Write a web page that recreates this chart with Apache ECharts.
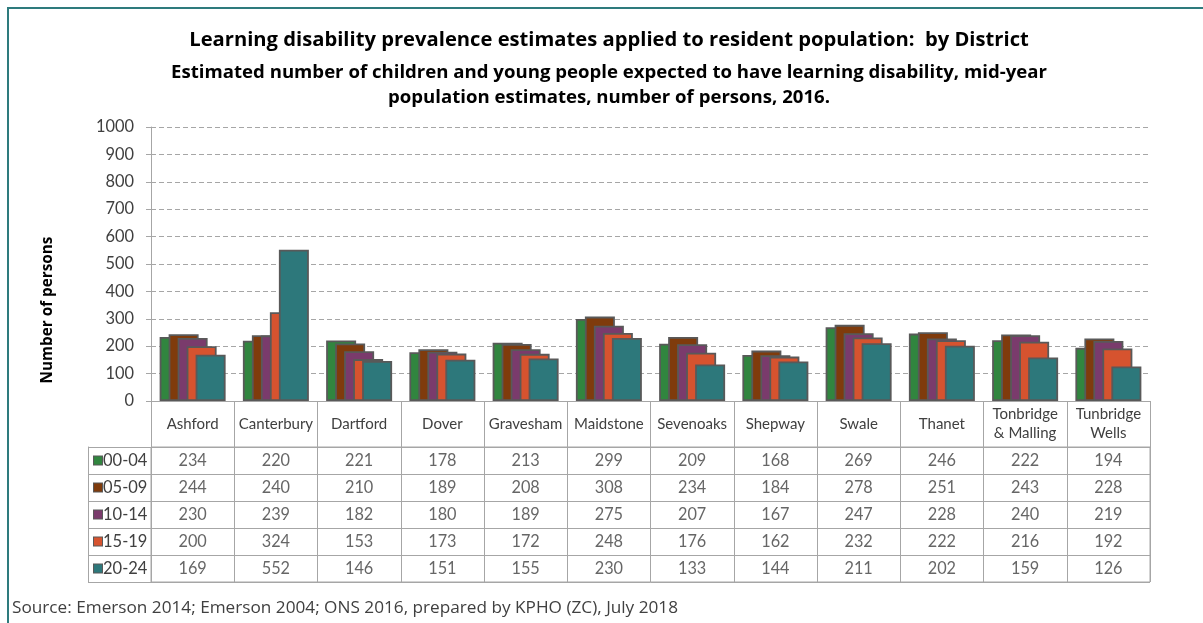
<!DOCTYPE html>
<html>
<head>
<meta charset="utf-8">
<script src="https://cdn.jsdelivr.net/npm/echarts@6/dist/echarts.min.js"></script>
<style>
html,body{margin:0;padding:0;background:#fff;}
#c{width:1203px;height:623px;}
</style>
</head>
<body>
<div id="c"></div>
<script>
const districts = ['Ashford','Canterbury','Dartford','Dover','Gravesham','Maidstone','Sevenoaks','Shepway','Swale','Thanet','Tonbridge\n& Malling','Tunbridge\nWells'];
const ageGroups = ['00-04','05-09','10-14','15-19','20-24'];
const s0004 = [234,220,221,178,213,299,209,168,269,246,222,194];
const s0509 = [244,240,210,189,208,308,234,184,278,251,243,228];
const s1014 = [230,239,182,180,189,275,207,167,247,228,240,219];
const s1519 = [200,324,153,173,172,248,176,162,232,222,216,192];
const s2024 = [169,552,146,151,155,230,133,144,211,202,159,126];
const yTicks = {min:0, max:1000, interval:100};
const colors = ['#31853F','#7F3B0C','#7A3B6C','#D6532F','#2D787B'];

const seriesData = [s0004,s0509,s1014,s1519,s2024];
const FONT = 'Lato, "Open Sans", sans-serif';
const TFONT = '"Open Sans", Lato, sans-serif';
const GRAY = '#A6A6A6';
const TXT = '#404040';

const chart = echarts.init(document.getElementById('c'));

const rich = {t:{fontSize:16.5,color:TXT,fontFamily:FONT,padding:[0,0,0,1]}};
colors.forEach((c,i)=>{ rich['s'+i] = {width:8,height:8,backgroundColor:c,borderColor:'#595959',borderWidth:1}; });

const cellData = [];
seriesData.forEach((arr,r)=>arr.forEach((v,c)=>cellData.push([c,r,v])));

const barSeries = seriesData.map((arr,i)=>({
  name: ageGroups[i],
  type:'bar',
  xAxisIndex:0, yAxisIndex:0,
  data: arr,
  barWidth:30,
  barGap:'-70%',
  itemStyle:{color:colors[i], borderColor:'#595959', borderWidth:1.8},
  silent:true
}));

chart.setOption({
  animation:false,
  backgroundColor:'#fff',
  textStyle:{fontFamily:FONT},
  title:[
    {text:'Learning disability prevalence estimates applied to resident population:  by District',
     left:609, textAlign:'center', top:30, padding:0,
     textStyle:{fontSize:20.2,fontWeight:'bold',color:'#000',fontFamily:TFONT}},
    {text:'Estimated number of children and young people expected to have learning disability, mid-year\npopulation estimates, number of persons, 2016.',
     left:609, textAlign:'center', top:60, padding:0,
     textStyle:{fontSize:18.6,fontWeight:'bold',color:'#000',lineHeight:25,fontFamily:TFONT}},
    {text:'Source: Emerson 2014; Emerson 2004; ONS 2016, prepared by KPHO (ZC), July 2018',
     left:12, top:600, padding:0,
     textStyle:{fontSize:17.2,fontWeight:'normal',color:TXT,fontFamily:TFONT}}
  ],
  graphic:[
    {type:'rect', shape:{x:8,y:8,width:1210,height:630}, style:{fill:'none',stroke:'#2E7B7D',lineWidth:2}, silent:true},
    {type:'text', x:48, y:310, rotation:Math.PI/2, silent:true,
     style:{text:'Number of persons', fontSize:15.3, fontWeight:'bold', fill:'#000', fontFamily:TFONT, align:'center', verticalAlign:'middle'}}
  ],
  grid:[
    {left:151, right:53, top:127, bottom:222},
    {left:151, right:53, top:447, bottom:41, show:true, borderColor:GRAY, borderWidth:1, backgroundColor:'transparent'}
  ],
  xAxis:[
    {type:'category', gridIndex:0, data:districts,
     axisLine:{lineStyle:{color:GRAY,width:1}},
     axisTick:{show:true, interval:0, length:46, lineStyle:{color:GRAY}},
     axisLabel:{interval:0, margin:23, verticalAlign:'middle', fontSize:15, color:TXT, lineHeight:19, fontFamily:FONT}},
    {type:'category', gridIndex:1, data:districts, position:'top',
     axisLine:{show:true,lineStyle:{color:GRAY}},
     axisTick:{show:false}, axisLabel:{show:false},
     splitLine:{show:true, interval:0, lineStyle:{color:GRAY,width:1}}}
  ],
  yAxis:[
    {type:'value', gridIndex:0, min:yTicks.min, max:yTicks.max, interval:yTicks.interval,
     axisLine:{show:true,lineStyle:{color:GRAY}},
     axisTick:{show:true,length:5,lineStyle:{color:GRAY}},
     axisLabel:{fontSize:16.4,color:TXT,margin:17,fontFamily:FONT,formatter:v=>String(v)},
     splitLine:{show:true,lineStyle:{color:GRAY,type:[5,3],width:1}}},
    {type:'category', gridIndex:1, data:ageGroups, inverse:true,
     axisLine:{show:true,lineStyle:{color:GRAY}},
     axisTick:{show:true, interval:0, length:63, lineStyle:{color:GRAY}},
     axisLabel:{interval:0, align:'left', margin:57,
       formatter:(v,i)=>'{s'+i+'|}{t|'+v+'}', rich:rich},
     splitLine:{show:true, interval:0, lineStyle:{color:GRAY,width:1}}},
    {type:'category', gridIndex:1, data:ageGroups, inverse:true, position:'left', offset:63,
     axisLine:{show:true,lineStyle:{color:GRAY}},
     axisTick:{show:false}, axisLabel:{show:false}, splitLine:{show:false}}
  ],
  series: barSeries.concat([{
    type:'scatter', xAxisIndex:1, yAxisIndex:1,
    data:cellData, symbolSize:1, itemStyle:{color:'rgba(0,0,0,0)'},
    silent:true,
    label:{show:true, position:'inside', formatter:p=>String(p.value[2]), fontSize:16.3, color:TXT, fontFamily:FONT}
  }])
});
</script>
</body>
</html>
